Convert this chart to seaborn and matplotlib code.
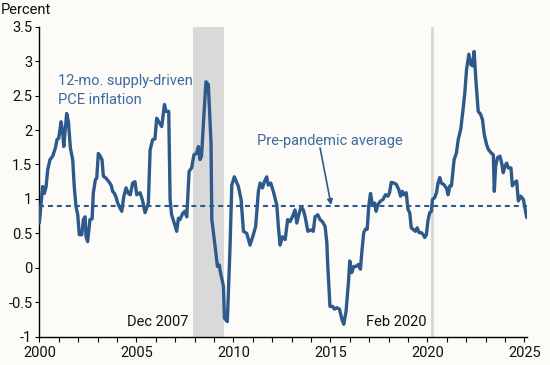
import matplotlib
matplotlib.use("Agg")
import matplotlib.pyplot as plt
import seaborn as sns
import pandas as pd

# ---- data (decimal years, percent) ----
years = [
    2000.00, 2000.17, 2000.26, 2000.35, 2000.43, 2000.55, 2000.69, 2000.83, 2000.91, 2001.00,
    2001.12, 2001.20, 2001.26, 2001.41, 2001.50, 2001.60, 2001.72, 2001.80, 2001.89, 2001.98,
    2002.06, 2002.19, 2002.27, 2002.36, 2002.41, 2002.49, 2002.61, 2002.72, 2002.78, 2002.89,
    2002.96, 2003.04, 2003.14, 2003.23, 2003.30, 2003.44, 2003.58, 2003.70, 2003.78, 2003.87,
    2003.95, 2004.04, 2004.12, 2004.25, 2004.35, 2004.47, 2004.59, 2004.69, 2004.81, 2004.93,
    2005.02, 2005.19, 2005.31, 2005.45, 2005.62, 2005.71, 2005.84, 2005.96, 2006.05, 2006.20,
    2006.31, 2006.45, 2006.53, 2006.67, 2006.74, 2006.82, 2006.90, 2007.08, 2007.17, 2007.25,
    2007.39, 2007.50, 2007.60, 2007.72, 2007.85, 2007.97, 2008.10, 2008.20, 2008.28, 2008.36,
    2008.49, 2008.59, 2008.71, 2008.85, 2008.89, 2009.06, 2009.18, 2009.28, 2009.31, 2009.49,
    2009.54, 2009.69, 2009.83, 2009.92, 2010.05, 2010.26, 2010.40, 2010.52, 2010.69, 2010.86,
    2011.03, 2011.15, 2011.29, 2011.38, 2011.50, 2011.60, 2011.72, 2011.80, 2011.93, 2012.06,
    2012.24, 2012.32, 2012.41, 2012.53, 2012.67, 2012.80, 2012.92, 2013.04, 2013.18, 2013.27,
    2013.39, 2013.49, 2013.61, 2013.70, 2013.84, 2014.00, 2014.12, 2014.21, 2014.35, 2014.47,
    2014.59, 2014.73, 2014.82, 2014.86, 2014.98, 2015.12, 2015.21, 2015.34, 2015.47, 2015.60,
    2015.69, 2015.81, 2015.93, 2016.00, 2016.10, 2016.21, 2016.33, 2016.45, 2016.55, 2016.62,
    2016.72, 2016.81, 2016.90, 2016.98, 2017.07, 2017.16, 2017.28, 2017.36, 2017.45, 2017.59,
    2017.71, 2017.84, 2017.97, 2018.05, 2018.14, 2018.28, 2018.40, 2018.52, 2018.62, 2018.71,
    2018.79, 2018.91, 2019.00, 2019.09, 2019.17, 2019.26, 2019.38, 2019.48, 2019.57, 2019.69,
    2019.79, 2019.86, 2019.95, 2020.03, 2020.12, 2020.21, 2020.26, 2020.38, 2020.47, 2020.55,
    2020.64, 2020.72, 2020.84, 2020.98, 2021.07, 2021.16, 2021.24, 2021.38, 2021.50, 2021.59,
    2021.72, 2021.84, 2021.93, 2022.02, 2022.14, 2022.24, 2022.33, 2022.41, 2022.50, 2022.62,
    2022.74, 2022.84, 2022.93, 2023.05, 2023.14, 2023.28, 2023.40, 2023.45, 2023.52, 2023.62,
    2023.74, 2023.83, 2023.91, 2024.00, 2024.09, 2024.17, 2024.31, 2024.38, 2024.48, 2024.60,
    2024.69, 2024.81, 2024.95, 2025.12,
]
supply_pce = [
    0.65, 1.18, 1.08, 1.18, 1.42, 1.57, 1.62, 1.74, 1.86, 1.88,
    2.12, 1.98, 1.76, 2.24, 2.12, 1.74, 1.57, 1.18, 0.89, 0.77,
    0.48, 0.48, 0.70, 0.74, 0.45, 0.38, 0.70, 0.71, 1.08, 1.28,
    1.30, 1.66, 1.62, 1.57, 1.33, 1.30, 1.25, 1.20, 1.11, 1.08,
    1.03, 0.94, 0.89, 0.82, 1.03, 1.16, 1.08, 1.06, 1.23, 1.25,
    1.06, 1.09, 0.99, 0.80, 0.94, 1.71, 1.86, 1.87, 2.17, 2.10,
    2.05, 2.37, 2.27, 2.27, 0.99, 0.77, 0.70, 0.53, 0.72, 0.70,
    0.79, 0.82, 0.74, 1.40, 1.45, 1.64, 1.66, 1.76, 1.57, 1.62,
    2.25, 2.70, 2.66, 1.81, 0.70, 0.31, 0.02, 0.04, -0.03, -0.27,
    -0.73, -0.78, 0.31, 1.20, 1.32, 1.18, 0.99, 0.53, 0.50, 0.33,
    0.48, 0.60, 1.11, 1.23, 1.16, 1.25, 1.32, 1.20, 1.23, 1.11,
    0.91, 0.60, 0.33, 0.45, 0.41, 0.70, 0.67, 0.74, 0.84, 0.65,
    0.79, 0.88, 0.84, 0.74, 0.53, 0.55, 0.53, 0.74, 0.77, 0.70,
    0.67, 0.60, 0.36, 0.07, -0.56, -0.56, -0.60, -0.58, -0.60, -0.75,
    -0.82, -0.63, -0.22, 0.10, -0.07, 0.02, 0.02, 0.05, -0.02, 0.22,
    0.51, 0.56, 0.56, 0.90, 1.08, 0.92, 0.94, 0.82, 0.92, 0.97,
    0.99, 1.06, 1.04, 1.09, 1.24, 1.23, 1.21, 1.14, 1.04, 1.11,
    1.06, 1.09, 0.85, 0.80, 0.58, 0.56, 0.53, 0.58, 0.51, 0.51,
    0.48, 0.44, 0.48, 0.68, 0.80, 0.82, 0.99, 1.02, 1.09, 1.23,
    1.31, 1.23, 1.21, 1.16, 1.06, 1.19, 1.19, 1.57, 1.67, 1.86,
    2.01, 2.30, 2.54, 2.88, 3.10, 2.95, 2.93, 3.14, 2.73, 2.27,
    2.23, 2.15, 1.94, 1.79, 1.72, 1.67, 1.64, 1.11, 1.48, 1.60,
    1.62, 1.52, 1.38, 1.48, 1.52, 1.45, 1.45, 1.19, 1.23, 1.26,
    0.97, 1.04, 0.99, 0.73,
]
pre_pandemic_avg = 0.89
recessions = [(2007.92, 2009.50), (2020.17, 2020.33)]
recession_labels = ["Dec 2007", "Feb 2020"]
y_ticks = [-1, -0.5, 0, 0.5, 1, 1.5, 2, 2.5, 3, 3.5]
y_tick_labels = ["-1", "-0.5", "0", "0.5", "1", "1.5", "2", "2.5", "3", "3.5"]
x_major = [2000, 2005, 2010, 2015, 2020, 2025]
x_major_labels = ["2000", "2005", "2010", "2015", "2020", "2025"]
x_minor = list(range(2000, 2026))

# ---- style ----
sns.set_theme(style="white")
BG = "#fcfbf8"
LINE = "#2d5a8a"
TXT_BLUE = "#3d6aa0"
FS = 10.5
plt.rcParams["font.family"] = ["Roboto", "DejaVu Sans"]
plt.rcParams["axes.facecolor"] = BG
plt.rcParams["figure.facecolor"] = BG

fig = plt.figure(figsize=(5.5, 3.65), dpi=100)
ax = fig.add_axes([0.0715, 0.0775, 0.8872, 0.8495])

df = pd.DataFrame({"year": years, "value": supply_pce})

for (a, b) in recessions:
    ax.axvspan(a, b, color="#d9d9d9", lw=0, zorder=0)

ax.axhline(pre_pandemic_avg, color=LINE, lw=1.5, linestyle=(0, (2.4, 1.9)), zorder=2)

sns.lineplot(data=df, x="year", y="value", estimator=None, sort=False,
             color=LINE, lw=2.4, ax=ax, zorder=3)

ax.set_xlim(2000, 2025.15)
ax.set_ylim(-1, 3.5)
ax.set_yticks(y_ticks)
ax.set_yticklabels(y_tick_labels)
ax.set_xticks(x_major)
ax.set_xticklabels(x_major_labels)
ax.set_xticks(x_minor, minor=True)
ax.set_xlabel("")
ax.set_ylabel("")

for s in ["top", "right"]:
    ax.spines[s].set_visible(False)
for s in ["left", "bottom"]:
    ax.spines[s].set_color("black")
    ax.spines[s].set_linewidth(1.0)

ax.tick_params(axis="y", which="major", left=True, length=3, width=0.8, color="black",
               labelsize=FS, labelcolor="#111111", pad=2)
ax.tick_params(axis="x", which="both", bottom=True, length=3.5, width=0.8, color="black",
               labelsize=FS, labelcolor="#111111", pad=3)

# Text annotations
fig.text(0.002, 1 - 14 / 365, "Percent", fontsize=FS, color="#111111", ha="left", va="baseline")
ax.text(2000.98, 2.656, "12-mo. supply-driven", fontsize=FS, color=TXT_BLUE, ha="left", va="baseline")
ax.text(2000.98, 2.38, "PCE inflation", fontsize=FS, color=TXT_BLUE, ha="left", va="baseline")
ax.text(2011.24, 1.785, "Pre-pandemic average", fontsize=FS, color=TXT_BLUE, ha="left", va="baseline")
ax.annotate("", xy=(2015.04, 0.91), xytext=(2014.47, 1.74),
            arrowprops=dict(arrowstyle="-|>", color=LINE, lw=1.2,
                            mutation_scale=8, shrinkA=0, shrinkB=0))
ax.text(2007.66, -0.84, recession_labels[0], fontsize=FS, color="#111111", ha="right", va="baseline")
ax.text(2019.98, -0.84, recession_labels[1], fontsize=FS, color="#111111", ha="right", va="baseline")

fig.savefig("out.png", dpi=100, facecolor=BG)
